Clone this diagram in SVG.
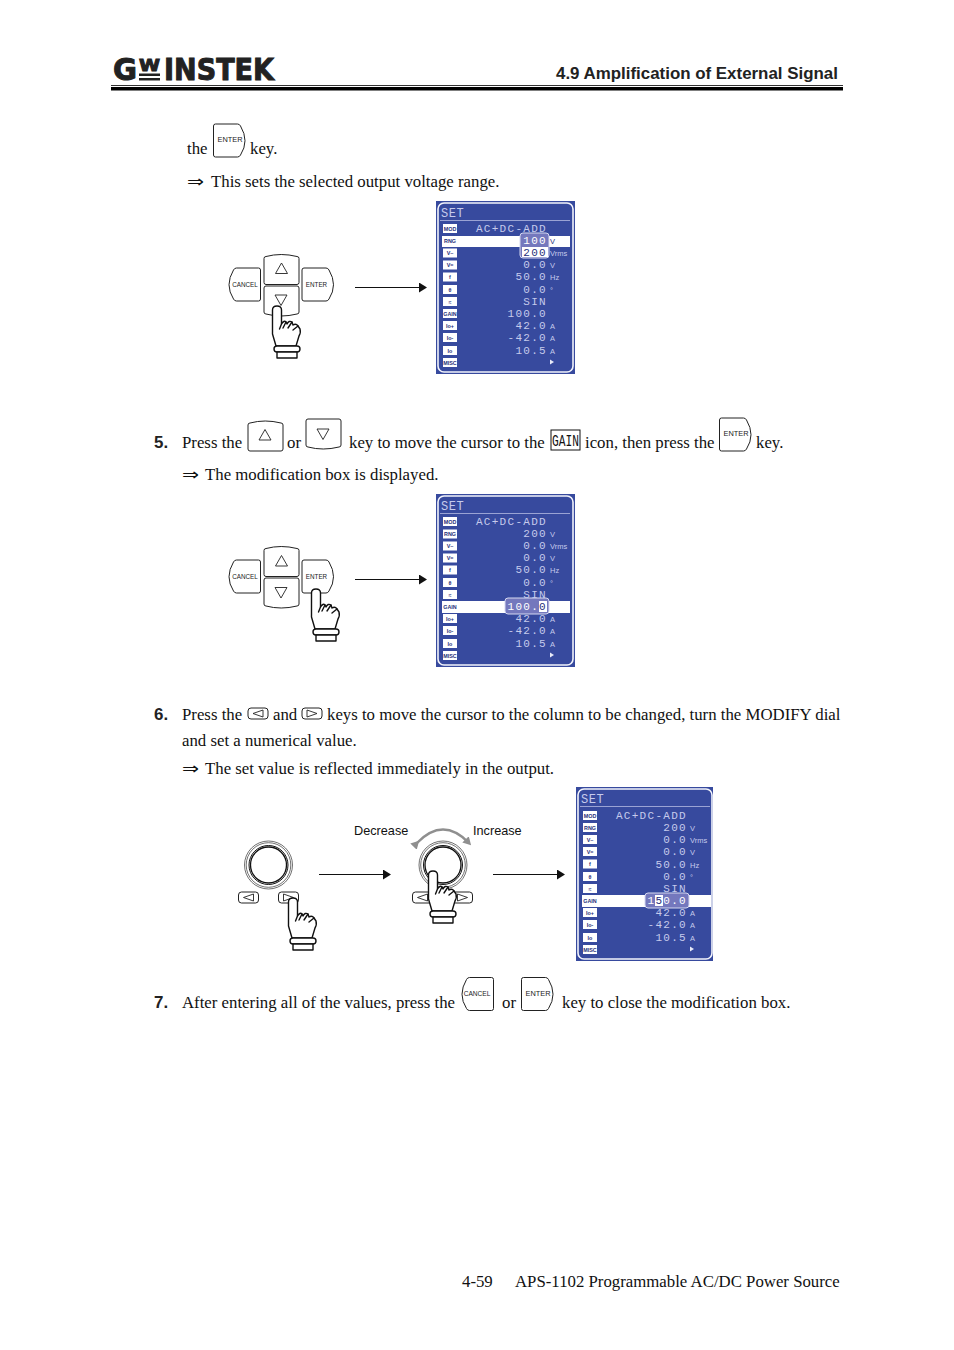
<svg xmlns="http://www.w3.org/2000/svg" width="954" height="1350" viewBox="0 0 954 1350">
<style>
.t{font-family:"Liberation Serif","Times New Roman",serif;font-size:16.8px;fill:#111}
.a{font-family:"DejaVu Sans","Liberation Serif",sans-serif;font-size:16px;fill:#111}
.n{font-family:"Liberation Sans",Arial,sans-serif;font-size:16.9px;font-weight:bold;fill:#222}
.k{font-family:"Liberation Sans",Arial,sans-serif;font-size:6.3px;fill:#222;text-anchor:middle}
.ke{font-family:"Liberation Sans",Arial,sans-serif;font-size:7.4px;fill:#222;text-anchor:middle}
.kc{font-family:"Liberation Sans",Arial,sans-serif;font-size:6.6px;fill:#222;text-anchor:middle}
.l{font-family:"Liberation Sans",Arial,sans-serif;font-size:12.7px;fill:#111}
.logo{font-family:"DejaVu Sans",sans-serif;font-weight:bold;fill:#222;stroke:#222;stroke-width:1}
.key{fill:#fff;stroke:#222;stroke-width:1}
.tri{fill:none;stroke:#222;stroke-width:.9}
.hand{fill:#fff;stroke:#111;stroke-width:1.4;stroke-linejoin:round;stroke-linecap:round}
.scr{fill:#374a9e}
.frm{fill:none;stroke:#f2f3fb;stroke-width:1.6}
.sep{stroke:#9aa3d4;stroke-width:1}
.v{font-family:"Liberation Mono","DejaVu Sans Mono",monospace;font-size:11px;letter-spacing:1.3px;fill:#c6cbec;text-anchor:end}
.s{font-family:"Liberation Mono","DejaVu Sans Mono",monospace;font-size:12px;letter-spacing:.6px;fill:#c6cbec}
.u{font-family:"Liberation Sans",Arial,sans-serif;font-size:7.5px;fill:#c6cbec}
.ib{fill:#fff}
.i{font-family:"Liberation Sans",Arial,sans-serif;font-size:5.4px;font-weight:bold;fill:#27307a;text-anchor:middle}
.bar{fill:#fff}
.pop{fill:#7478bd;stroke:#d5d8f0;stroke-width:1}
.ln{stroke:#111;stroke-width:1.2;fill:none}
.head{fill:#111}
</style>
<defs>
<g id="hand">
<path class="hand" d="M-4.5,3 Q-4.5,-1 0,-1 Q4.5,-1 4.5,3 L4.5,17 Q7,13 9,15 L10,17 Q12,13 15,15 L16,18 Q19,16 21,19 L23,22 Q24,26 22,29 L19,39 L-1,39 L-4.5,27 Z"/>
<path class="hand" d="M4.5,17 L2.500,22 M9,15 L6,21 M15,15 L11,21 M21,19 L16,23"/>
<rect class="hand" x="-3" y="39" width="26" height="6" rx="3"/>
<rect class="hand" x="0" y="45" width="20" height="6"/>
</g>
<path id="kup" class="key" d="M2,31 H33 Q35,31 35,29 V5 Q35,3 33,3 Q17,-1 2,3 Q0,3 0,5 V29 Q0,31 2,31Z"/>
<path id="kdn" class="key" d="M2,0 H33 Q35,0 35,2 V26 Q35,28 33,28 Q17,32 2,28 Q0,28 0,26 V2 Q0,0 2,0Z"/>
<path id="kcancel" class="key" d="M30,0 Q32,0 32,2 V31 Q32,33 30,33 H8 Q6,33 5,31 Q-4,17 5,2 Q6,0 8,0Z"/>
<path id="kenter" class="key" d="M2,0 H24 Q26,0 27,2 Q36,17 27,31 Q26,33 24,33 H2 Q0,33 0,31 V2 Q0,0 2,0Z"/>
<path id="tup" class="tri" d="M0,-5.5 L6,5 H-6Z"/>
<path id="tdn" class="tri" d="M0,5.5 L6,-5 H-6Z"/>
<g id="sl"><rect class="key" width="20" height="11" rx="3"/><path class="tri" d="M5,5.5 L15,2 V9Z"/></g>
<g id="sr"><rect class="key" width="20" height="11" rx="3"/><path class="tri" d="M15,5.5 L5,2 V9Z"/></g>
<g id="dial"><circle r="24" fill="#fff" stroke="#333" stroke-width=".7"/><circle r="22.300" fill="#fff" stroke="#333" stroke-width=".7"/><circle r="19.500" fill="#fff" stroke="#111" stroke-width="1"/><circle r="18" fill="#fff" stroke="#111" stroke-width="1.300"/></g>
<marker id="ah" markerWidth="9" markerHeight="10" refX="0" refY="5" orient="auto" markerUnits="userSpaceOnUse"><path class="head" d="M0,0 L8,5 L0,10Z"/></marker>
<marker id="gh" markerWidth="9" markerHeight="9" refX="5" refY="4.5" orient="auto" markerUnits="userSpaceOnUse"><path fill="#8f8f8f" d="M0,0 L8,4.5 L0,9Z"/></marker>
</defs>
<rect width="954" height="1350" fill="#fff"/>

<g id="header">
<text class="logo" x="113" y="80" font-size="31" textLength="24" lengthAdjust="spacingAndGlyphs">G</text>
<text class="logo" x="139" y="71" font-size="16" textLength="21" lengthAdjust="spacingAndGlyphs">W</text>
<rect x="139" y="73.500" width="21" height="2.500" fill="#222"/><rect x="139" y="78" width="21" height="2.500" fill="#222"/>
<text class="logo" x="164" y="80" font-size="31" textLength="110" lengthAdjust="spacingAndGlyphs">INSTEK</text>
<text class="n" x="556" y="79">4.9 Amplification of External Signal</text>
<rect x="111" y="85" width="732" height="1" fill="#333"/>
<rect x="111" y="87" width="732" height="3.500" fill="#000"/>
</g>

<g id="step4-text">
<text class="t" x="187" y="154">the</text>
<g id="key-enter-a"><use href="#kenter" x="213.500" y="124"/><text class="ke" x="230" y="142">ENTER</text></g>
<text class="t" x="250" y="154">key.</text>
<text class="a" x="187" y="187" textLength="17" lengthAdjust="spacingAndGlyphs">⇒</text>
<text class="t" x="211" y="187">This sets the selected output voltage range.</text>
</g>

<g id="pad1">
<use href="#kcancel" x="228.500" y="268"/><text class="k" x="245" y="287">CANCEL</text>
<use href="#kup" x="264" y="253.500"/><use href="#tup" x="281.500" y="268.500"/>
<use href="#kenter" x="302" y="268"/><text class="k" x="316.500" y="287">ENTER</text>
<use href="#kdn" x="264" y="286"/><use href="#tdn" x="281" y="300"/>
<use href="#hand" x="277" y="307"/>
</g>

<g id="screen1" transform="translate(436,201)">
<rect class="scr" width="139" height="173"/><rect class="frm" x="2" y="2" width="135" height="169" rx="6"/>
<text class="s" x="5" y="16">SET</text><line class="sep" x1="4" y1="19.500" x2="134" y2="19.500"/>
<rect class="bar" x="6" y="35" width="128" height="11"/>
<rect class="pop" x="84" y="32" width="29" height="25" rx="3"/><rect class="bar" x="86" y="46" width="26" height="10"/>
<g id="icons1">
<rect class="ib" x="7" y="23" width="14" height="9"/><text class="i" x="14" y="29.500">MOD</text>
<rect class="ib" x="7" y="35.500" width="14" height="9"/><text class="i" x="14" y="42">RNG</text>
<rect class="ib" x="7" y="47.500" width="14" height="9"/><text class="i" x="14" y="54">V~</text>
<rect class="ib" x="7" y="59.500" width="14" height="9"/><text class="i" x="14" y="66">V=</text>
<rect class="ib" x="7" y="71.500" width="14" height="9"/><text class="i" x="14" y="78">f</text>
<rect class="ib" x="7" y="84" width="14" height="9"/><text class="i" x="14" y="90.500">θ</text>
<rect class="ib" x="7" y="96" width="14" height="9"/><text class="i" x="14" y="102.500">≈</text>
<rect class="ib" x="7" y="108" width="14" height="9"/><text class="i" x="14" y="114.500">GAIN</text>
<rect class="ib" x="7" y="120" width="14" height="9"/><text class="i" x="14" y="126.500">Io+</text>
<rect class="ib" x="7" y="132" width="14" height="9"/><text class="i" x="14" y="138.500">Io-</text>
<rect class="ib" x="7" y="145" width="14" height="9"/><text class="i" x="14" y="151.500">Io</text>
<rect class="ib" x="7" y="157" width="14" height="9"/><text class="i" x="14" y="163.500">MISC</text>
</g>
<text class="v" x="111" y="31">AC+DC-ADD</text>
<text class="v" x="111" y="43" style="fill:#fff">100</text><text class="u" x="114" y="43" style="fill:#27307a">V</text>
<text class="v" x="111" y="55" style="fill:#27307a">200</text><text class="u" x="114" y="55">Vrms</text>
<text class="v" x="111" y="67">0.0</text><text class="u" x="114" y="67">V</text>
<text class="v" x="111" y="79">50.0</text><text class="u" x="114" y="79">Hz</text>
<text class="v" x="111" y="92">0.0</text><text class="u" x="114" y="92">°</text>
<text class="v" x="111" y="104">SIN</text>
<text class="v" x="111" y="116">100.0</text>
<text class="v" x="111" y="128">42.0</text><text class="u" x="114" y="128">A</text>
<text class="v" x="111" y="140">-42.0</text><text class="u" x="114" y="140">A</text>
<text class="v" x="111" y="153">10.5</text><text class="u" x="114" y="153">A</text>
<path d="M114,158.500 L118,161 L114,163.500Z" fill="#e8eaf8"/>
</g>

<g id="step5-text">
<text class="n" x="154" y="448">5.</text>
<text class="t" x="182" y="448">Press the</text>
<g id="key-up-b"><use href="#kup" x="248" y="420"/><use href="#tup" x="265" y="435"/></g>
<text class="t" x="287" y="448">or</text>
<g id="key-dn-b"><use href="#kdn" x="306" y="419"/><use href="#tdn" x="323" y="434"/></g>
<text class="t" x="349" y="448">key to move the cursor to the</text>
<g id="gain-icon"><rect x="551" y="430" width="29" height="20" fill="#fff" stroke="#111" stroke-width="1"/><text transform="translate(552,446) scale(.66,1)" font-family="'Liberation Mono',monospace" font-size="17" fill="#111">GAIN</text></g>
<text class="t" x="585" y="448">icon, then press the</text>
<g id="key-enter-b"><use href="#kenter" x="719.500" y="418"/><text class="ke" x="736" y="436">ENTER</text></g>
<text class="t" x="756" y="448">key.</text>
<text class="a" x="182" y="480" textLength="17" lengthAdjust="spacingAndGlyphs">⇒</text>
<text class="t" x="205" y="480">The modification box is displayed.</text>
</g>

<g id="pad2">
<use href="#kcancel" x="228.500" y="560"/><text class="k" x="245" y="579">CANCEL</text>
<use href="#kup" x="264" y="545.500"/><use href="#tup" x="281.500" y="561"/>
<use href="#kenter" x="302" y="560"/><text class="k" x="316.500" y="579">ENTER</text>
<use href="#kdn" x="264" y="578"/><use href="#tdn" x="281" y="592.500"/>
<use href="#hand" x="316" y="590"/>
</g>

<g id="screen2" transform="translate(436,494)">
<rect class="scr" width="139" height="173"/><rect class="frm" x="2" y="2" width="135" height="169" rx="6"/>
<text class="s" x="5" y="16">SET</text><line class="sep" x1="4" y1="19.500" x2="134" y2="19.500"/>
<rect class="bar" x="6" y="107" width="128" height="12"/>
<rect class="pop" x="69" y="104" width="44" height="16" rx="3"/><rect class="bar" x="103" y="107" width="8" height="11"/>
<g id="icons2">
<rect class="ib" x="7" y="23" width="14" height="9"/><text class="i" x="14" y="29.500">MOD</text>
<rect class="ib" x="7" y="35.500" width="14" height="9"/><text class="i" x="14" y="42">RNG</text>
<rect class="ib" x="7" y="47.500" width="14" height="9"/><text class="i" x="14" y="54">V~</text>
<rect class="ib" x="7" y="59.500" width="14" height="9"/><text class="i" x="14" y="66">V=</text>
<rect class="ib" x="7" y="71.500" width="14" height="9"/><text class="i" x="14" y="78">f</text>
<rect class="ib" x="7" y="84" width="14" height="9"/><text class="i" x="14" y="90.500">θ</text>
<rect class="ib" x="7" y="96" width="14" height="9"/><text class="i" x="14" y="102.500">≈</text>
<rect class="ib" x="7" y="108" width="14" height="9"/><text class="i" x="14" y="114.500">GAIN</text>
<rect class="ib" x="7" y="120" width="14" height="9"/><text class="i" x="14" y="126.500">Io+</text>
<rect class="ib" x="7" y="132" width="14" height="9"/><text class="i" x="14" y="138.500">Io-</text>
<rect class="ib" x="7" y="145" width="14" height="9"/><text class="i" x="14" y="151.500">Io</text>
<rect class="ib" x="7" y="157" width="14" height="9"/><text class="i" x="14" y="163.500">MISC</text>
</g>
<text class="v" x="111" y="31">AC+DC-ADD</text>
<text class="v" x="111" y="43">200</text><text class="u" x="114" y="43">V</text>
<text class="v" x="111" y="55">0.0</text><text class="u" x="114" y="55">Vrms</text>
<text class="v" x="111" y="67">0.0</text><text class="u" x="114" y="67">V</text>
<text class="v" x="111" y="79">50.0</text><text class="u" x="114" y="79">Hz</text>
<text class="v" x="111" y="92">0.0</text><text class="u" x="114" y="92">°</text>
<text class="v" x="111" y="104">SIN</text>
<text class="v" x="111" y="116" style="fill:#fff">100.<tspan style="fill:#27307a">0</tspan></text>
<text class="v" x="111" y="128">42.0</text><text class="u" x="114" y="128">A</text>
<text class="v" x="111" y="140">-42.0</text><text class="u" x="114" y="140">A</text>
<text class="v" x="111" y="153">10.5</text><text class="u" x="114" y="153">A</text>
<path d="M114,158.500 L118,161 L114,163.500Z" fill="#e8eaf8"/>
</g>

<g id="step6-text">
<text class="n" x="154" y="720">6.</text>
<text class="t" x="182" y="720">Press the</text>
<use href="#sl" x="248" y="708"/>
<text class="t" x="273" y="720">and</text>
<use href="#sr" x="302" y="708"/>
<text class="t" x="327" y="720">keys to move the cursor to the column to be changed, turn the MODIFY dial</text>
<text class="t" x="182" y="746">and set a numerical value.</text>
<text class="a" x="182" y="774" textLength="17" lengthAdjust="spacingAndGlyphs">⇒</text>
<text class="t" x="205" y="774">The set value is reflected immediately in the output.</text>
</g>

<g id="dial1">
<use href="#dial" x="268.500" y="865"/>
<use href="#sl" x="238.500" y="892"/>
<use href="#sr" x="278.500" y="892"/>
<use href="#hand" x="293" y="899"/>
</g>
<g id="dial2">
<use href="#dial" x="443" y="865"/>
<use href="#sl" x="412.500" y="892"/>
<use href="#sr" x="452.500" y="892"/>
<use href="#hand" x="433" y="872"/>
<text class="l" x="354" y="835">Decrease</text>
<text class="l" x="473" y="835">Increase</text>
</g>

<g id="screen3" transform="translate(576,787)">
<rect class="scr" width="137" height="174"/><rect class="frm" x="2" y="2" width="134" height="170" rx="6"/>
<text class="s" x="5" y="16">SET</text><line class="sep" x1="4" y1="19.500" x2="134" y2="19.500"/>
<rect class="bar" x="6" y="108" width="129" height="12"/>
<rect class="pop" x="69" y="106" width="44" height="15" rx="3"/><rect class="bar" x="79" y="108" width="8" height="11"/>
<g id="icons3">
<rect class="ib" x="7" y="24" width="14" height="9"/><text class="i" x="14" y="30.500">MOD</text>
<rect class="ib" x="7" y="36" width="14" height="9"/><text class="i" x="14" y="42.500">RNG</text>
<rect class="ib" x="7" y="48" width="14" height="9"/><text class="i" x="14" y="54.500">V~</text>
<rect class="ib" x="7" y="60" width="14" height="9"/><text class="i" x="14" y="66.500">V=</text>
<rect class="ib" x="7" y="72.500" width="14" height="9"/><text class="i" x="14" y="79">f</text>
<rect class="ib" x="7" y="85" width="14" height="9"/><text class="i" x="14" y="91.500">θ</text>
<rect class="ib" x="7" y="97" width="14" height="9"/><text class="i" x="14" y="103.500">≈</text>
<rect class="ib" x="7" y="109" width="14" height="9"/><text class="i" x="14" y="115.500">GAIN</text>
<rect class="ib" x="7" y="121" width="14" height="9"/><text class="i" x="14" y="127.500">Io+</text>
<rect class="ib" x="7" y="133" width="14" height="9"/><text class="i" x="14" y="139.500">Io-</text>
<rect class="ib" x="7" y="146" width="14" height="9"/><text class="i" x="14" y="152.500">Io</text>
<rect class="ib" x="7" y="158" width="14" height="9"/><text class="i" x="14" y="164.500">MISC</text>
</g>
<text class="v" x="111" y="32">AC+DC-ADD</text>
<text class="v" x="111" y="44">200</text><text class="u" x="114" y="44">V</text>
<text class="v" x="111" y="56">0.0</text><text class="u" x="114" y="56">Vrms</text>
<text class="v" x="111" y="68">0.0</text><text class="u" x="114" y="68">V</text>
<text class="v" x="111" y="81">50.0</text><text class="u" x="114" y="81">Hz</text>
<text class="v" x="111" y="93">0.0</text><text class="u" x="114" y="93">°</text>
<text class="v" x="111" y="105">SIN</text>
<text class="v" x="111" y="117" style="fill:#fff">1<tspan style="fill:#27307a">5</tspan>0.0</text>
<text class="v" x="111" y="129">42.0</text><text class="u" x="114" y="129">A</text>
<text class="v" x="111" y="141">-42.0</text><text class="u" x="114" y="141">A</text>
<text class="v" x="111" y="154">10.5</text><text class="u" x="114" y="154">A</text>
<path d="M114,159.500 L118,162 L114,164.500Z" fill="#e8eaf8"/>
</g>

<g id="step7-text">
<text class="n" x="154" y="1008">7.</text>
<text class="t" x="182" y="1008">After entering all of the values, press the</text>
<g id="key-cancel-c"><use href="#kcancel" x="461.500" y="977.500"/><text class="kc" x="477" y="996">CANCEL</text></g>
<text class="t" x="502" y="1008">or</text>
<g id="key-enter-c"><use href="#kenter" x="521.500" y="977.500"/><text class="ke" x="538" y="996">ENTER</text></g>
<text class="t" x="562" y="1008">key to close the modification box.</text>
</g>

<g id="connectors">
<line class="ln" x1="355" y1="287.500" x2="419" y2="287.500" marker-end="url(#ah)"/>
<line class="ln" x1="355" y1="579.500" x2="419" y2="579.500" marker-end="url(#ah)"/>
<line class="ln" x1="319" y1="874.500" x2="383" y2="874.500" marker-end="url(#ah)"/>
<line class="ln" x1="493" y1="874.500" x2="557" y2="874.500" marker-end="url(#ah)"/>
<path d="M417,843 Q443,816 469,843" fill="none" stroke="#8f8f8f" stroke-width="2.500" marker-start="url(#gh)" marker-end="url(#gh)"/>
</g>

<g id="footer">
<text class="t" x="462" y="1287">4-59</text>
<text class="t" x="515" y="1287">APS-1102 Programmable AC/DC Power Source</text>
</g>
</svg>
